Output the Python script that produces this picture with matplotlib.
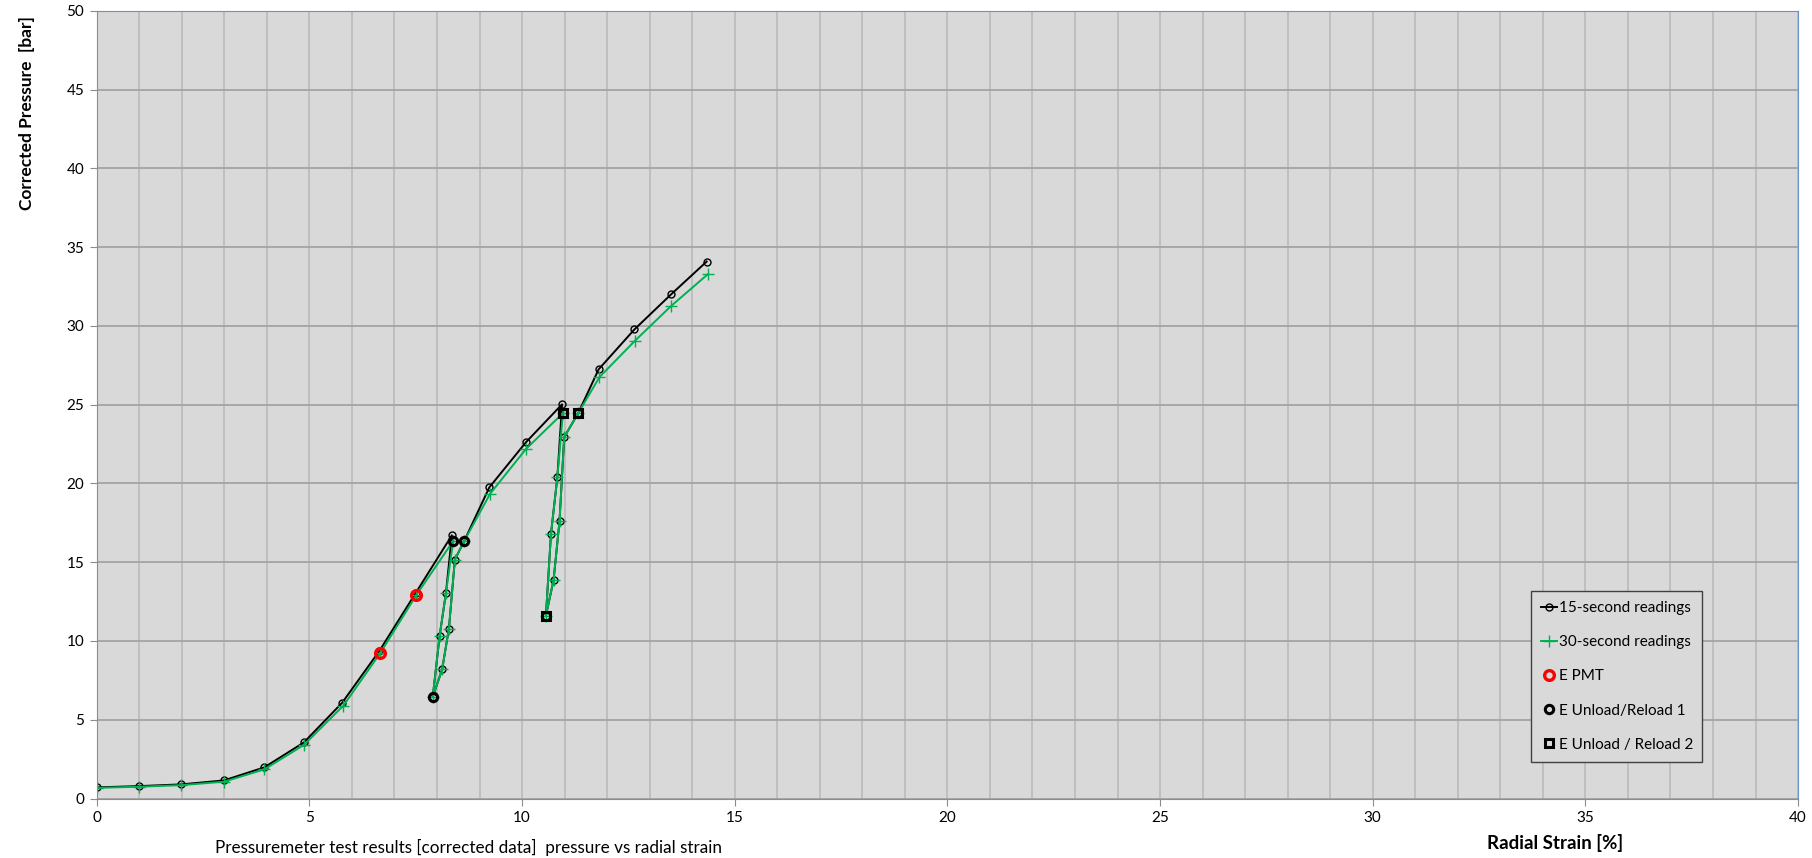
import matplotlib
matplotlib.use("Agg")
import matplotlib.pyplot as plt
from matplotlib.ticker import MultipleLocator

plt.rcParams['font.family'] = ['Lato', 'DejaVu Sans']

# 15-second readings (radial strain %, corrected pressure bar), incl. two unload/reload loops
strain_15 = [0.0, 1.0, 1.99, 2.99, 3.94, 4.87, 5.77, 6.64, 7.50, 8.35,
             8.21, 8.06, 7.90, 8.12, 8.28, 8.42, 8.64,
             9.23, 10.09, 10.94,
             10.83, 10.68, 10.56, 10.74, 10.88, 10.99, 11.32,
             11.80, 12.64, 13.50, 14.34]
press_15 = [0.71, 0.79, 0.90, 1.15, 1.98, 3.56, 6.08, 9.35, 13.05, 16.71,
            13.05, 10.30, 6.46, 8.19, 10.79, 15.17, 16.35,
            19.75, 22.61, 25.02,
            20.41, 16.82, 11.60, 13.86, 17.60, 22.94, 24.46,
            27.24, 29.77, 31.99, 34.08]

# 30-second readings
strain_30 = [0.0, 1.0, 1.99, 2.99, 3.94, 4.87, 5.80, 6.66, 7.51, 8.38,
             8.21, 8.06, 7.90, 8.12, 8.28, 8.42, 8.64,
             9.25, 10.09, 10.96,
             10.83, 10.68, 10.56, 10.74, 10.88, 10.99, 11.32,
             11.82, 12.66, 13.50, 14.36]
press_30 = [0.68, 0.75, 0.85, 1.07, 1.85, 3.40, 5.90, 9.21, 12.90, 16.35,
            13.05, 10.30, 6.46, 8.19, 10.79, 15.17, 16.35,
            19.35, 22.18, 24.46,
            20.41, 16.82, 11.60, 13.86, 17.60, 22.94, 24.46,
            26.75, 29.07, 31.25, 33.26]

# points used for the moduli
pmt_x = [6.66, 7.51]
pmt_y = [9.21, 12.90]
ur1_x = [7.90, 8.38, 8.64]
ur1_y = [6.46, 16.35, 16.35]
ur2_x = [10.56, 10.96, 11.32]
ur2_y = [11.60, 24.46, 24.46]

fig = plt.figure(figsize=(18.12, 8.58), dpi=100)
ax = fig.add_axes([0.0534, 0.0693, 0.9389, 0.9182])
ax.set_facecolor('#d9d9d9')

ax.set_xlim(0, 40)
ax.set_ylim(0, 50)
ax.xaxis.set_major_locator(MultipleLocator(5))
ax.xaxis.set_minor_locator(MultipleLocator(1))
ax.yaxis.set_major_locator(MultipleLocator(5))
ax.grid(which='minor', axis='x', color='#bdbdbd', lw=1.3)
ax.grid(which='major', axis='x', color='#bdbdbd', lw=1.3)
ax.grid(which='major', axis='y', color='#a3a3a3', lw=1.3)
ax.set_axisbelow(True)

for s in ['left', 'bottom']:
    ax.spines[s].set_color('#8c8c8c')
for s in ['top', 'right']:
    ax.spines[s].set_color('#6d8fcb')
ax.tick_params(which='major', length=5, color='#8c8c8c', labelsize=11, pad=4)
ax.tick_params(which='minor', length=0)

ax.plot(strain_15, press_15, color='black', lw=1.4, marker='o', ms=5,
        mfc='none', mec='black', mew=1.0, label='15-second readings')
ax.plot(strain_30, press_30, color='#00b050', lw=1.4, marker='+', ms=8,
        mew=1.0, label='30-second readings')
ax.plot(pmt_x, pmt_y, ls='none', marker='o', ms=7, mfc='none', mec='#ff0000',
        mew=2.4, label='E PMT')
ax.plot(ur1_x, ur1_y, ls='none', marker='o', ms=6, mfc='none', mec='black',
        mew=2.2, label='E Unload/Reload 1')
ax.plot(ur2_x, ur2_y, ls='none', marker='s', ms=6, mfc='none', mec='black',
        mew=2.2, label='E Unload / Reload 2')

leg = ax.legend(loc='lower left', bbox_to_anchor=(0.843, 0.0467, 0.1005, 0.216),
                mode='expand', fontsize=11, frameon=True, fancybox=False,
                edgecolor='#404040', facecolor='#d9d9d9', framealpha=1,
                handlelength=1.05, handletextpad=0.15, labelspacing=1.32,
                borderpad=0.65, borderaxespad=0)
leg.get_frame().set_linewidth(1.0)

fig.text(0.0149, 0.8687, 'Corrected Pressure  [bar]', rotation=90, ha='center',
         va='center', fontsize=12.5, fontweight='bold')
fig.text(0.858, 0.0175, 'Radial Strain [%]', ha='center', va='center',
         fontsize=13.5, fontweight='bold')
fig.text(0.1187, 0.0128, 'Pressuremeter test results [corrected data]  pressure vs radial strain',
         ha='left', va='center', fontsize=12.3)

fig.savefig('out.png', dpi=100)
